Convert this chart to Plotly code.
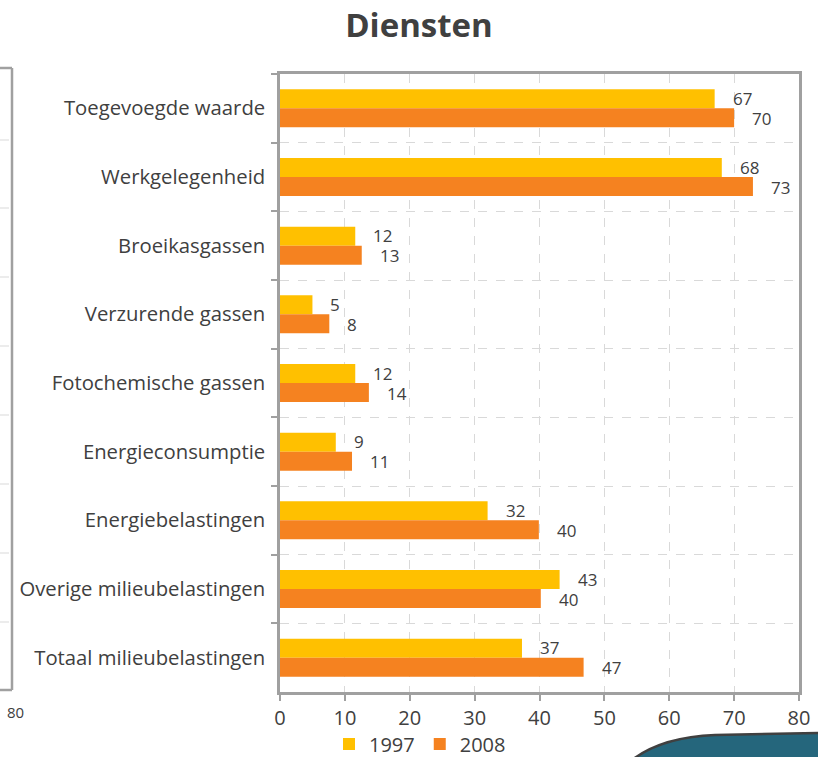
import plotly.graph_objects as go

# ── Data ──────────────────────────────────────────────────────────────────────
categories = [
    "Toegevoegde waarde",
    "Werkgelegenheid",
    "Broeikasgassen",
    "Verzurende gassen",
    "Fotochemische gassen",
    "Energieconsumptie",
    "Energiebelastingen",
    "Overige milieubelastingen",
    "Totaal milieubelastingen",
]
values_1997 = [67.0, 68.1, 11.6, 5.0, 11.6, 8.6, 32.0, 43.1, 37.3]
values_2008 = [70.0, 72.9, 12.6, 7.6, 13.7, 11.1, 39.9, 40.2, 46.8]
x_ticks = [0, 10, 20, 30, 40, 50, 60, 70, 80]

COLORS = {
    "y1997": "#FFC000",
    "y2008": "#F58220",
    "text":  "#404040",
    "axis":  "#A0A0A0",
    "grid":  "#D9D9D9",
}
FONT = "Open Sans"

# page 818 x 757; plot area in pixels
W, H = 818, 757
L, R, T, B = 280, 19, 74, 65


def hx(px):
    """page x pixel -> offset from the plot's left edge"""
    return px - L


def hy(py):
    """page y pixel -> offset above the plot's bottom edge"""
    return (H - B) - py


fig = go.Figure()

fig.add_trace(go.Bar(
    y=categories, x=values_1997, orientation="h", name="1997",
    marker=dict(color=COLORS["y1997"], line=dict(width=0)),
))
fig.add_trace(go.Bar(
    y=categories, x=values_2008, orientation="h", name="2008",
    marker=dict(color=COLORS["y2008"], line=dict(width=0)),
))

# value labels, just right of each bar end
for cat, v1, v2 in zip(categories, values_1997, values_2008):
    for v, shift in ((v1, 10), (v2, -10)):
        fig.add_annotation(
            x=v, y=cat, text=f"{v:.0f}", showarrow=False,
            xanchor="left", xshift=16, yshift=shift,
            font=dict(size=17, color=COLORS["text"], family=FONT),
        )

# ── Fragments of the neighbouring panels (cropped in the reference) ──────────
px = dict(xref="paper", yref="paper", xsizemode="pixel", ysizemode="pixel",
          xanchor=0, yanchor=0)
frame = dict(color=COLORS["axis"], width=2.5)
fig.add_shape(type="line", x0=hx(12), x1=hx(12), y0=hy(690), y1=hy(68), line=frame, **px)
fig.add_shape(type="line", x0=hx(0), x1=hx(12), y0=hy(690), y1=hy(690), line=frame, **px)
fig.add_shape(type="line", x0=hx(0), x1=hx(12), y0=hy(68), y1=hy(68), line=frame, **px)
for gy in (140, 208, 277, 346, 415, 484, 553, 622):
    fig.add_shape(type="line", x0=hx(0), x1=hx(10), y0=hy(gy), y1=hy(gy),
                  line=dict(color=COLORS["grid"], width=1, dash="dash"), **px)
fig.add_annotation(
    text="80", xref="paper", yref="paper",
    x=hx(15) / (W - L - R), y=hy(712) / (H - T - B), showarrow=False,
    xanchor="center", yanchor="middle",
    font=dict(size=15, color=COLORS["text"], family=FONT),
)
fig.add_shape(
    type="path",
    path=(f"M {hx(632)},{hy(760)} Q {hx(662)},{hy(737)} {hx(715)},{hy(735)} "
          f"L {hx(822)},{hy(733)} L {hx(822)},{hy(760)} Z"),
    fillcolor="#25667C", line=dict(color="#404040", width=2.5), **px,
)

fig.update_layout(
    width=W, height=H,
    margin=dict(l=L, r=R, t=T, b=B, autoexpand=False),
    paper_bgcolor="white",
    plot_bgcolor="white",
    barmode="group",
    bargap=0.447,
    bargroupgap=0,
    title=dict(
        text="<b>Diensten</b>", x=419 / W, xref="container", xanchor="center",
        y=1 - 25 / H, yref="container", yanchor="middle",
        font=dict(size=33, color=COLORS["text"], family=FONT),
    ),
    legend=dict(
        orientation="h", xref="paper", yref="paper",
        x=hx(420) / (W - L - R), xanchor="center",
        y=hy(744) / (H - T - B), yanchor="middle",
        font=dict(size=20, color=COLORS["text"], family=FONT),
        itemwidth=30, tracegroupgap=0,
    ),
    xaxis=dict(
        range=[0, 80], tickvals=x_ticks, showgrid=True,
        gridcolor=COLORS["grid"], griddash="dash", gridwidth=1,
        showline=True, linecolor=COLORS["axis"], linewidth=2.5, mirror=True,
        ticks="outside", ticklen=6, tickcolor=COLORS["axis"], tickwidth=2,
        tickfont=dict(size=20, color=COLORS["text"], family=FONT),
        zeroline=False,
    ),
    yaxis=dict(
        autorange="reversed", tickson="boundaries", showgrid=True,
        gridcolor=COLORS["grid"], griddash="dash", gridwidth=1,
        showline=True, linecolor=COLORS["axis"], linewidth=2.5, mirror=True,
        ticks="outside", ticklen=6, tickcolor=COLORS["axis"], tickwidth=2,
        ticklabelstandoff=8,
        tickfont=dict(size=20.3, color=COLORS["text"], family=FONT),
    ),
    font=dict(family=FONT, color=COLORS["text"]),
    showlegend=True,
)

# drop the page's default body margin so the 818x757 figure sits at (0, 0)
fig.write_html(
    "out.html",
    config={"displayModeBar": False},
    post_script="document.body.style.margin='0';",
)
